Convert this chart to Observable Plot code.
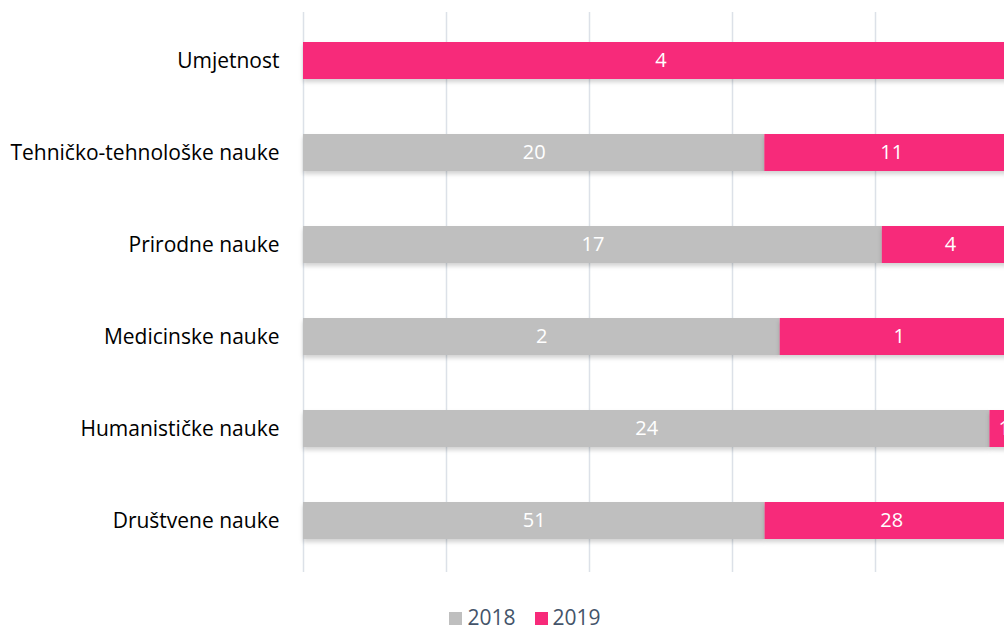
<!DOCTYPE html>
<html>
<head>
<meta charset="utf-8">
<script src="https://cdn.jsdelivr.net/npm/d3@7"></script>
<script src="https://cdn.jsdelivr.net/npm/@observablehq/plot@0.6"></script>
<style>
  html, body { margin: 0; padding: 0; background: #fff; overflow: hidden; }
  body { width: 1004px; height: 627px; position: relative; font-family: "Open Sans", sans-serif; }
  #chart svg { display: block; overflow: hidden; }
  .bars rect { filter: drop-shadow(0px 3px 2px rgba(0,0,0,0.18)); }
  #legend { position: absolute; left: 0; top: 606px; width: 1004px; display: flex; justify-content: center; gap: 19px; font-size: 21px; line-height: 22px; color: #44546A; padding-left: 46px; box-sizing: border-box; white-space: nowrap; }
  #legend span.sw { display: inline-block; width: 13px; height: 13px; margin-right: 5px; vertical-align: baseline; }
</style>
</head>
<body>
<div id="chart"></div>
<div id="legend"></div>
<script>
const categories = ["Umjetnost", "Tehničko-tehnološke nauke", "Prirodne nauke", "Medicinske nauke", "Humanističke nauke", "Društvene nauke"];
const values2018 = [0, 20, 17, 2, 24, 51];
const values2019 = [4, 11, 4, 1, 1, 28];
const years = ["2018", "2019"];
const colors = ["#BFBFBF", "#F72A7A"];
const gridTicks = [0, 0.2, 0.4, 0.6, 0.8, 1];

const data = [];
categories.forEach((c, i) => {
  data.push({category: c, year: "2018", value: values2018[i]});
  data.push({category: c, year: "2019", value: values2019[i]});
});

const plot = Plot.plot({
  width: 1004,
  height: 600,
  marginLeft: 303,
  marginRight: -14,
  marginTop: 12,
  marginBottom: 32,
  style: {fontFamily: "'Open Sans', sans-serif", fontSize: "21px", color: "#000", background: "#fff"},
  x: {domain: [0, 1], axis: null},
  y: {domain: categories, paddingInner: 0.6, paddingOuter: 0.3, label: null, tickSize: 0, tickPadding: 24},
  color: {domain: years, range: colors},
  marks: [
    Plot.ruleX(gridTicks, {stroke: "#DCE1E8", strokeWidth: 1.5, insetBottom: -4}),
    Plot.barX(data, Plot.stackX({x: "value", y: "category", fill: "year", offset: "normalize", className: "bars"})),
    Plot.text(data.filter(d => d.value > 0), Plot.stackX({x: "value", y: "category", z: "year", text: d => String(d.value), offset: "normalize", fill: "white", fontSize: 20})),
    Plot.axisY({tickSize: 0, tickPadding: 24, fontSize: 21, fill: "#000"})
  ]
});
document.getElementById("chart").appendChild(plot);

const legend = document.getElementById("legend");
years.forEach((y, i) => {
  const item = document.createElement("div");
  item.innerHTML = `<span class="sw" style="background:${colors[i]}"></span>${y}`;
  legend.appendChild(item);
});
</script>
</body>
</html>
